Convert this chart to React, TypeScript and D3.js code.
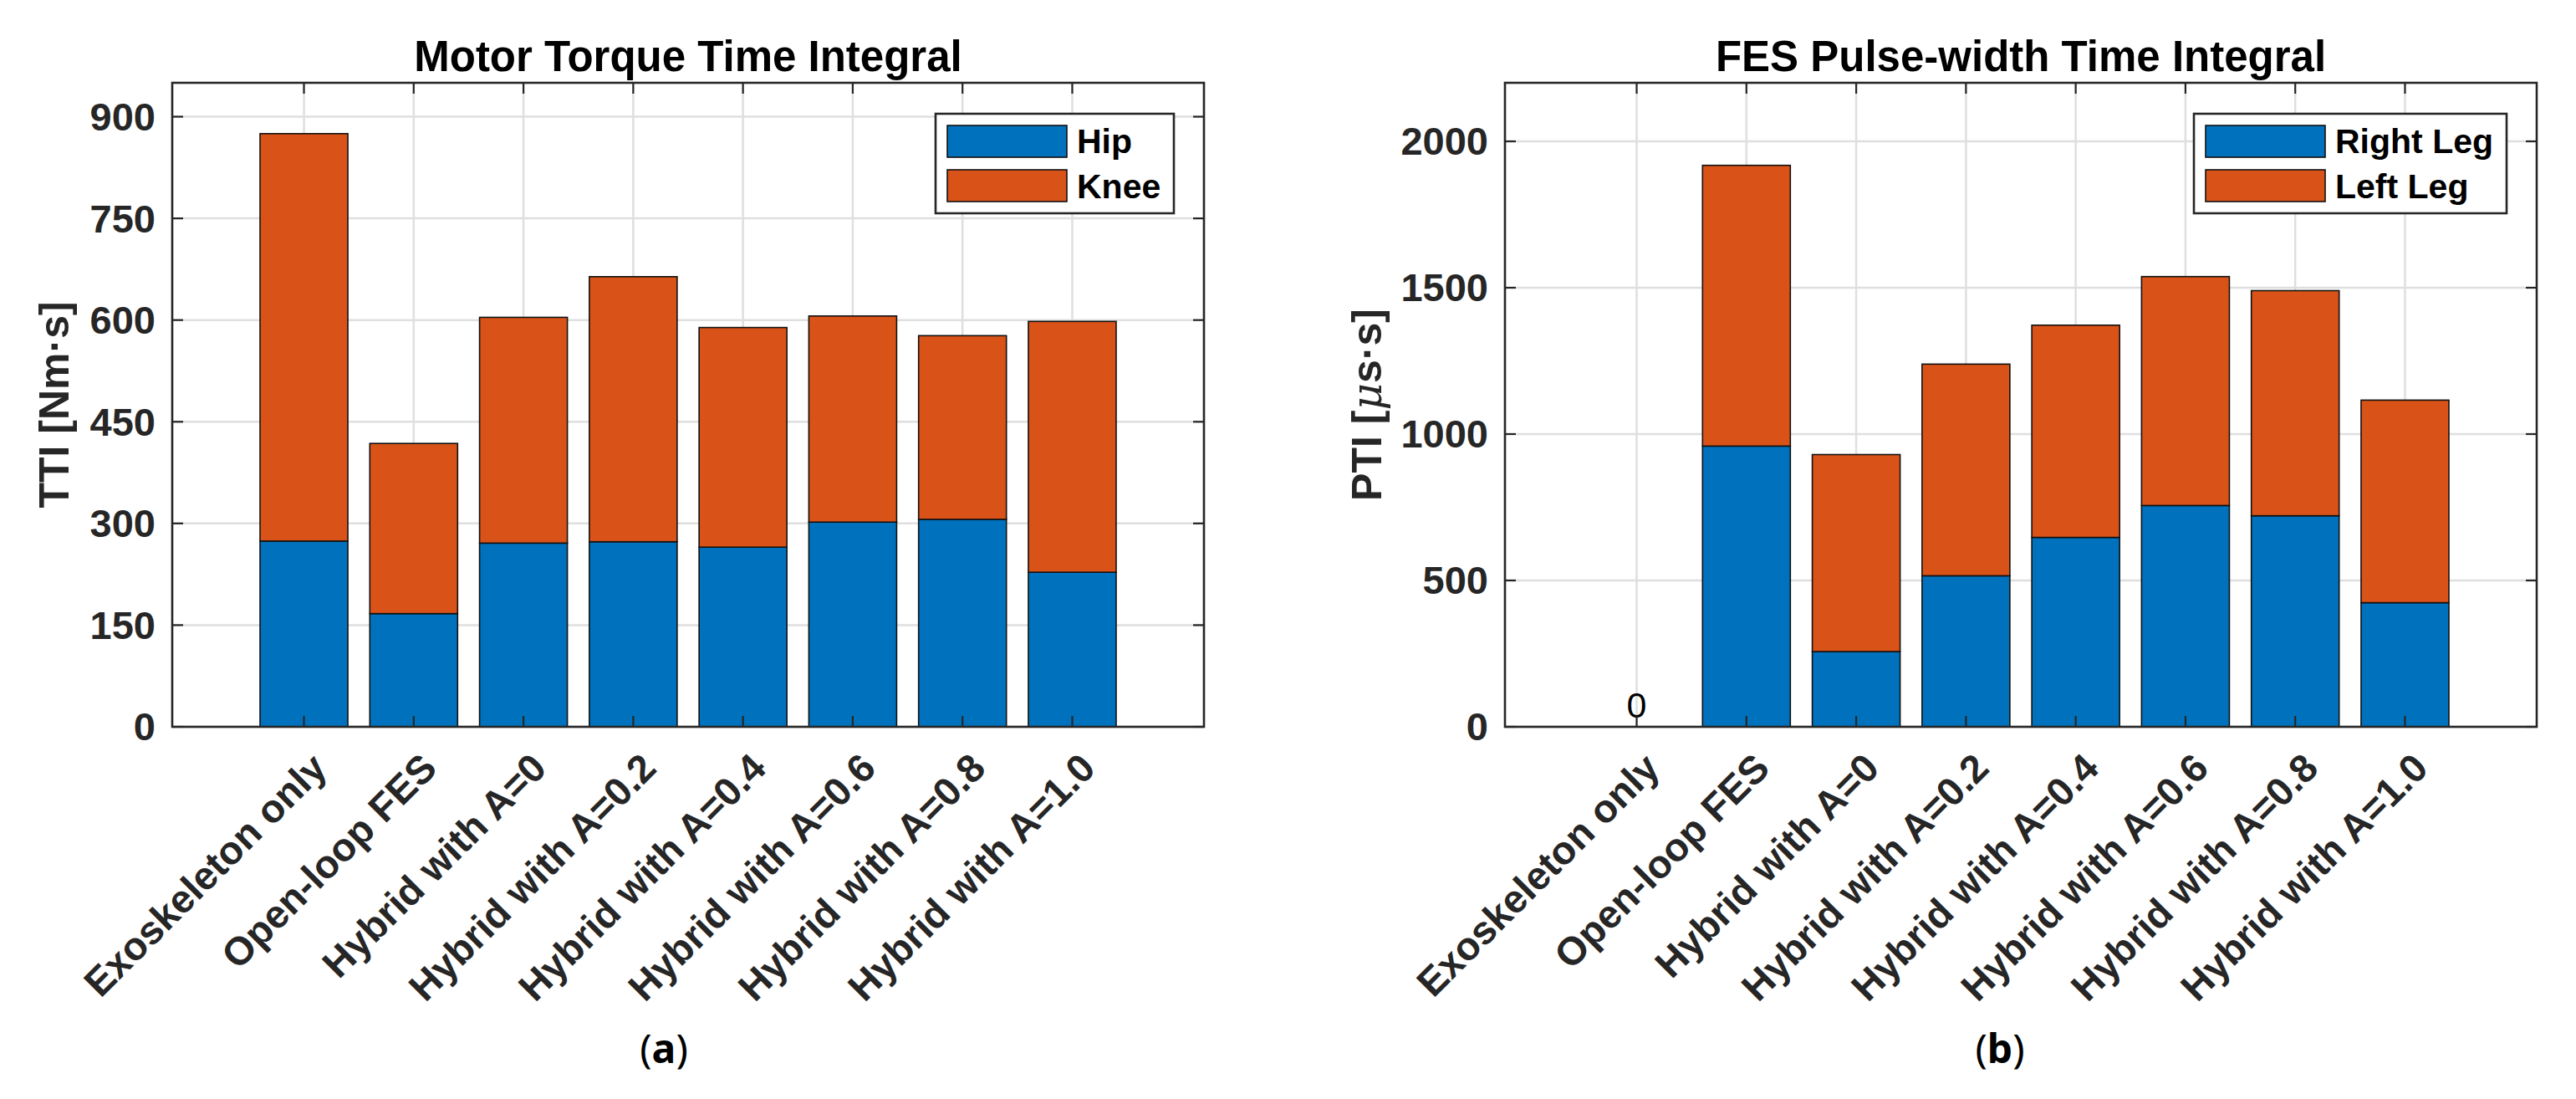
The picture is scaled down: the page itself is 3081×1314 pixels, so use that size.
import * as d3 from "d3";
import { useEffect, useRef } from "react";

const categories = [
  "Exoskeleton only",
  "Open-loop FES",
  "Hybrid with A=0",
  "Hybrid with A=0.2",
  "Hybrid with A=0.4",
  "Hybrid with A=0.6",
  "Hybrid with A=0.8",
  "Hybrid with A=1.0",
];

const hipTTI = [274, 167, 271, 273, 265, 302, 306, 228];
const kneeTTI = [601, 251, 333, 391, 324, 304, 271, 370];
const ttiTicks = [0, 150, 300, 450, 600, 750, 900];

const rightLegPTI = [0, 959, 257, 516, 647, 756, 721, 424];
const leftLegPTI = [0, 959, 673, 723, 725, 782, 769, 692];
const ptiTicks = [0, 500, 1000, 1500, 2000];

const BLUE = "#0072BD";
const ORANGE = "#D95319";
const AX = "#262626";
const FONT = "'Liberation Sans', Arial, Helvetica, sans-serif";

type PanelCfg = {
  x0: number;
  x1: number;
  yMax: number;
  ticks: number[];
  lower: number[];
  upper: number[];
  names: [string, string];
  title: string;
  yLabel: (t: d3.Selection<SVGTextElement, unknown, null, undefined>) => void;
  yLabelX: number;
  legendW: number;
  caption: string;
  captionX: number;
};

const TOP = 99;
const BOTTOM = 869;

function drawPanel(svg: d3.Selection<SVGSVGElement, unknown, null, undefined>, cfg: PanelCfg) {
  const g = svg.append("g");
  const x = d3.scaleLinear().domain([-0.2, 9.2]).range([cfg.x0, cfg.x1]);
  const y = d3.scaleLinear().domain([0, cfg.yMax]).range([BOTTOM, TOP]);
  const pos = categories.map((_, i) => i + 1);
  const barW = x(0.8) - x(0);

  // grid
  g.selectAll(".gy")
    .data(cfg.ticks)
    .enter()
    .append("line")
    .attr("x1", cfg.x0)
    .attr("x2", cfg.x1)
    .attr("y1", (d) => y(d))
    .attr("y2", (d) => y(d))
    .attr("stroke", "#dfdfdf")
    .attr("stroke-width", 2.5);
  g.selectAll(".gx")
    .data(pos)
    .enter()
    .append("line")
    .attr("x1", (d) => x(d))
    .attr("x2", (d) => x(d))
    .attr("y1", TOP)
    .attr("y2", BOTTOM)
    .attr("stroke", "#dfdfdf")
    .attr("stroke-width", 2.5);

  // stacked bars
  const rows = categories.map((c, i) => ({ c, i, a: cfg.lower[i], b: cfg.upper[i] }));
  const stacked = d3.stack<(typeof rows)[number]>().keys(["a", "b"]).value((d, k) => (d as any)[k])(rows);
  const colors = [BLUE, ORANGE];
  stacked.forEach((layer, li) => {
    g.selectAll(".bar" + li)
      .data(layer.filter((d) => d[1] - d[0] > 0))
      .enter()
      .append("rect")
      .attr("x", (d) => x(d.data.i + 1) - barW / 2)
      .attr("width", barW)
      .attr("y", (d) => y(d[1]))
      .attr("height", (d) => y(d[0]) - y(d[1]))
      .attr("fill", colors[li])
      .attr("stroke", "#111")
      .attr("stroke-width", 1.6);
  });

  // zero annotations
  rows
    .filter((r) => r.a + r.b === 0)
    .forEach((r) => {
      g.append("text")
        .attr("x", x(r.i + 1))
        .attr("y", y(0) - 11)
        .attr("text-anchor", "middle")
        .attr("font-family", FONT)
        .attr("font-size", 43)
        .attr("fill", "#000")
        .text("0");
    });

  // box
  g.append("rect")
    .attr("x", cfg.x0)
    .attr("y", TOP)
    .attr("width", cfg.x1 - cfg.x0)
    .attr("height", BOTTOM - TOP)
    .attr("fill", "none")
    .attr("stroke", AX)
    .attr("stroke-width", 2.6);

  // ticks
  const tl = 13;
  pos.forEach((p) => {
    g.append("line").attr("x1", x(p)).attr("x2", x(p)).attr("y1", BOTTOM).attr("y2", BOTTOM - tl).attr("stroke", AX).attr("stroke-width", 2.2);
    g.append("line").attr("x1", x(p)).attr("x2", x(p)).attr("y1", TOP).attr("y2", TOP + tl).attr("stroke", AX).attr("stroke-width", 2.2);
  });
  cfg.ticks.forEach((t) => {
    g.append("line").attr("x1", cfg.x0).attr("x2", cfg.x0 + tl).attr("y1", y(t)).attr("y2", y(t)).attr("stroke", AX).attr("stroke-width", 2.2);
    g.append("line").attr("x1", cfg.x1).attr("x2", cfg.x1 - tl).attr("y1", y(t)).attr("y2", y(t)).attr("stroke", AX).attr("stroke-width", 2.2);
  });

  // y tick labels
  g.selectAll(".yt")
    .data(cfg.ticks)
    .enter()
    .append("text")
    .attr("x", cfg.x0 - 20)
    .attr("y", (d) => y(d))
    .attr("dy", "0.35em")
    .attr("text-anchor", "end")
    .attr("font-family", FONT)
    .attr("font-weight", "bold")
    .attr("font-size", 47)
    .attr("fill", AX)
    .text((d) => d);

  // x tick labels
  g.selectAll(".xt")
    .data(categories)
    .enter()
    .append("text")
    .attr("transform", (_, i) => `translate(${x(i + 1) + 30},${BOTTOM + 52}) rotate(-45)`)
    .attr("text-anchor", "end")
    .attr("font-family", FONT)
    .attr("font-weight", "bold")
    .attr("font-size", 47)
    .attr("fill", AX)
    .text((d) => d);

  // y label
  const yl = g
    .append("text")
    .attr("transform", `translate(${cfg.yLabelX},${(TOP + BOTTOM) / 2}) rotate(-90)`)
    .attr("text-anchor", "middle")
    .attr("font-family", FONT)
    .attr("font-weight", "bold")
    .attr("font-size", 50)
    .attr("fill", AX);
  cfg.yLabel(yl);

  // title
  g.append("text")
    .attr("x", (cfg.x0 + cfg.x1) / 2)
    .attr("y", 85)
    .attr("text-anchor", "middle")
    .attr("font-family", FONT)
    .attr("font-weight", "bold")
    .attr("font-size", 51)
    .attr("fill", "#000")
    .text(cfg.title);

  // legend
  const lx = cfg.x1 - 36 - cfg.legendW;
  const ly = 136;
  const lg = g.append("g");
  lg.append("rect")
    .attr("x", lx)
    .attr("y", ly)
    .attr("width", cfg.legendW)
    .attr("height", 119)
    .attr("fill", "#fff")
    .attr("stroke", AX)
    .attr("stroke-width", 2.6);
  cfg.names.forEach((name, i) => {
    lg.append("rect")
      .attr("x", lx + 14)
      .attr("y", ly + 14 + i * 53)
      .attr("width", 143)
      .attr("height", 38)
      .attr("fill", colors[i])
      .attr("stroke", "#111")
      .attr("stroke-width", 1.6);
    lg.append("text")
      .attr("x", lx + 169)
      .attr("y", ly + 47 + i * 54)
      .attr("font-family", FONT)
      .attr("font-weight", "bold")
      .attr("font-size", 41)
      .attr("fill", "#000")
      .text(name);
  });

  // caption
  const cap = g
    .append("text")
    .attr("x", cfg.captionX)
    .attr("y", 1271)
    .attr("text-anchor", "middle")
    .attr("font-family", "'Noto Sans', 'DejaVu Sans', sans-serif")
    .attr("font-size", 48)
    .attr("fill", "#000");
  cap.append("tspan").text("(");
  cap.append("tspan").attr("font-weight", "bold").text(cfg.caption);
  cap.append("tspan").text(")");
}

export default function App() {
  const svgRef = useRef<SVGSVGElement | null>(null);

  useEffect(() => {
    const svg = d3.select(svgRef.current as SVGSVGElement);
    svg.selectAll("*").remove();
    svg.append("rect").attr("width", 3081).attr("height", 1314).attr("fill", "#fff");

    drawPanel(svg, {
      x0: 206,
      x1: 1440,
      yMax: 950,
      ticks: ttiTicks,
      lower: hipTTI,
      upper: kneeTTI,
      names: ["Hip", "Knee"],
      title: "Motor Torque Time Integral",
      yLabel: (t) => t.text("TTI [Nm·s]"),
      yLabelX: 82,
      legendW: 285,
      caption: "a",
      captionX: 794,
    });

    drawPanel(svg, {
      x0: 1800,
      x1: 3034,
      yMax: 2200,
      ticks: ptiTicks,
      lower: rightLegPTI,
      upper: leftLegPTI,
      names: ["Right Leg", "Left Leg"],
      title: "FES Pulse-width Time Integral",
      yLabel: (t) => {
        t.append("tspan").text("PTI [");
        t.append("tspan")
          .attr("font-family", "'DejaVu Serif', 'Liberation Serif', serif")
          .attr("font-style", "italic")
          .attr("font-weight", "normal")
          .text("μ");
        t.append("tspan").text("s·s]");
      },
      yLabelX: 1652,
      legendW: 374,
      caption: "b",
      captionX: 2392,
    });
  }, []);

  return (
    <svg
      ref={svgRef}
      width={3081}
      height={1314}
      style={{ position: "absolute", left: 0, top: 0 }}
    ></svg>
  );
}
